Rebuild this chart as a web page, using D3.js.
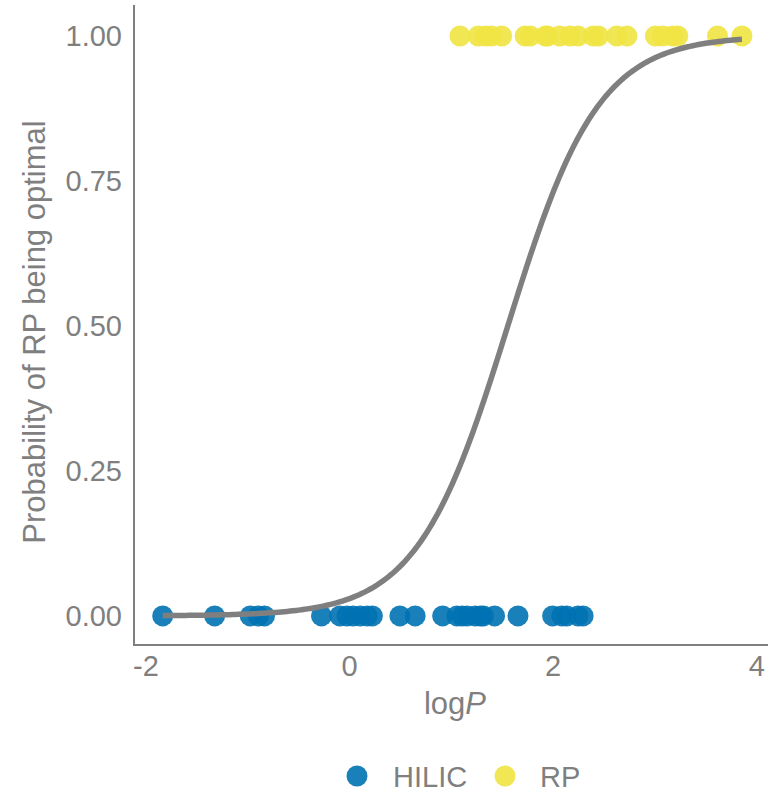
<!DOCTYPE html>
<html><head><meta charset="utf-8">
<script src="https://cdn.jsdelivr.net/npm/d3@7"></script>
<style>body{margin:0;background:#fff}svg{display:block}text{font-family:"Liberation Sans",Arial,sans-serif;fill:#7f7f7f}</style>
</head><body><svg id="c" width="768" height="795"></svg>
<script>
const hilicX=[-1.83,-1.32,-0.97,-0.89,-0.83,-0.27,-0.09,-0.02,0.04,0.11,0.18,0.23,0.50,0.65,0.92,1.06,1.11,1.16,1.24,1.29,1.32,1.43,1.66,2.00,2.09,2.14,2.25,2.30];
const rpX=[1.09,1.27,1.34,1.40,1.50,1.73,1.78,1.93,1.95,2.07,2.17,2.25,2.40,2.45,2.63,2.73,3.01,3.08,3.18,3.23,3.62,3.86];
const xTicks=[-2,0,2,4];
const yTicks=[0,0.25,0.5,0.75,1];
const curveCoef={mid:1.56,slope:2.24};
const curveRange=[-1.83,3.86];
const series=[{name:"HILIC",color:"#0072B2",vals:hilicX,y:0},{name:"RP",color:"#F0E442",vals:rpX,y:1}];

const svg=d3.select("#c");
const x=d3.scaleLinear().domain([-2.112,4.116]).range([134,768]);
const y=d3.scaleLinear().domain([-0.0502,1.0534]).range([645,5]);
const gray="#7f7f7f";

// axes
const gx=svg.append("g").attr("transform","translate(0,645)").call(d3.axisBottom(x).tickValues(xTicks).tickSize(0).tickPadding(10).tickFormat(d=>String(d)));
gx.select(".domain").remove();
gx.selectAll("text").style("font-size","29px").attr("fill",gray).attr("font-family","Liberation Sans, Arial, sans-serif");
const gy=svg.append("g").attr("transform","translate(134,0)").call(d3.axisLeft(y).tickValues(yTicks).tickSize(0).tickPadding(12).tickFormat(d3.format(".2f")));
gy.select(".domain").remove();
gy.selectAll("text").style("font-size","29px").attr("fill",gray).attr("font-family","Liberation Sans, Arial, sans-serif");
svg.append("line").attr("x1",134).attr("x2",134).attr("y1",5).attr("y2",646).attr("stroke",gray).attr("stroke-width",2);
svg.append("line").attr("x1",133).attr("x2",768).attr("y1",645).attr("y2",645).attr("stroke",gray).attr("stroke-width",2);

// points
series.forEach(s=>{
  svg.append("g").selectAll("circle").data(s.vals).join("circle")
    .attr("cx",d=>x(d)).attr("cy",y(s.y)).attr("r",10.5)
    .attr("fill",s.color).attr("fill-opacity",0.9);
});

// curve
const pts=d3.range(0,201).map(i=>{const v=curveRange[0]+(curveRange[1]-curveRange[0])*i/200;return [v,1/(1+Math.exp(-curveCoef.slope*(v-curveCoef.mid)))];});
svg.append("path").datum(pts).attr("d",d3.line().x(d=>x(d[0])).y(d=>y(d[1])))
  .attr("fill","none").attr("stroke","#7f7f7f").attr("stroke-width",5.5);

// titles
const xt=svg.append("text").attr("x",455).attr("y",714).attr("text-anchor","middle").style("font-size","31px");
xt.append("tspan").text("log");
xt.append("tspan").attr("font-style","italic").text("P");
svg.append("text").attr("transform","translate(45,332) rotate(-90)").attr("text-anchor","middle").style("font-size","31px").text("Probability of RP being optimal");

// legend
const leg=[{name:"HILIC",color:"#0072B2",cx:357,tx:393},{name:"RP",color:"#F0E442",cx:505,tx:540}];
leg.forEach(l=>{
  svg.append("circle").attr("cx",l.cx).attr("cy",776).attr("r",10.5).attr("fill",l.color).attr("fill-opacity",0.9);
  svg.append("text").attr("x",l.tx).attr("y",787).style("font-size","29px").text(l.name);
});
</script></body></html>
